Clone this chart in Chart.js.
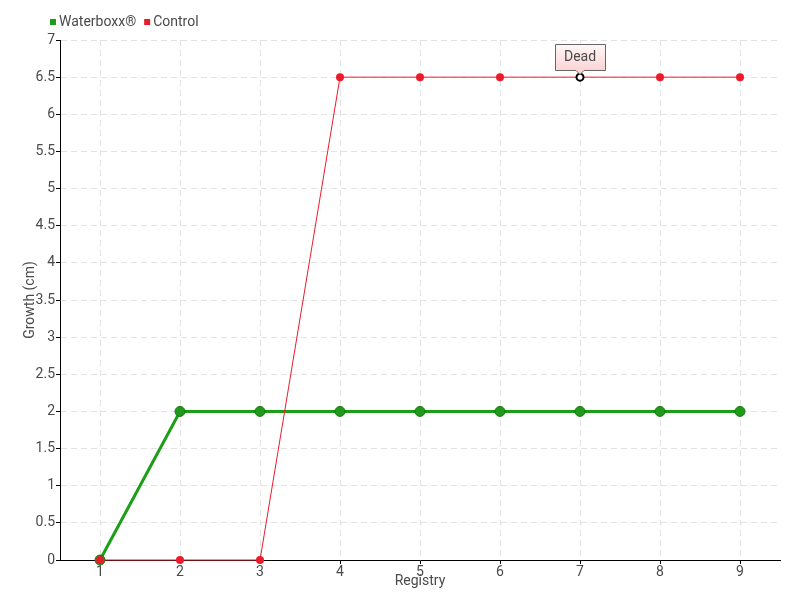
<!DOCTYPE html>
<html>
<head>
<meta charset="utf-8">
<script src="https://cdn.jsdelivr.net/npm/chart.js@4.4.0/dist/chart.umd.min.js"></script>
<style>
  html, body { margin: 0; padding: 0; background: #fff; }
  #wrap { width: 800px; height: 600px; }
</style>
</head>
<body>
<div id="wrap"><canvas id="c" width="800" height="600"></canvas></div>
<script>
// Registry points and growth measurements (cm)
const registries = ['1', '2', '3', '4', '5', '6', '7', '8', '9'];
const waterboxx = [0, 2, 2, 2, 2, 2, 2, 2, 2];
const control = [0, 0, 0, 6.5, 6.5, 6.5, 6.5, 6.5, 6.5];
// Note attached to a control measurement
const noteIndex = 6;
const noteText = 'Dead';

const FONT = 'Roboto, "DejaVu Sans", sans-serif';
const GREEN = '#1c9e16';
const RED = '#ea1b2b';
const TEXT = '#4a4a4a';

// Compact legend: small square swatch tight against each label
const compactLegend = {
  id: 'compactLegend',
  afterDraw(chart) {
    const ctx = chart.ctx;
    ctx.save();
    ctx.font = '14px ' + FONT;
    ctx.textBaseline = 'middle';
    ctx.textAlign = 'left';
    let x = 50;
    const y = 22;
    chart.data.datasets.forEach((ds) => {
      ctx.fillStyle = ds.borderColor;
      ctx.fillRect(x, y - 3, 6, 6);
      x += 9;
      ctx.fillStyle = TEXT;
      ctx.fillText(ds.label, x, y);
      x += ctx.measureText(ds.label).width + 8;
    });
    ctx.restore();
  }
};

// Callout box pinned above an annotated point
const notePlugin = {
  id: 'note',
  afterDatasetsDraw(chart) {
    const meta = chart.getDatasetMeta(1);
    const pt = meta.data[noteIndex];
    if (!pt) return;
    const ctx = chart.ctx;
    const x = pt.x, y = pt.y;
    ctx.save();
    // highlighted point
    ctx.beginPath();
    ctx.arc(x, y, 3.5, 0, Math.PI * 2);
    ctx.fillStyle = '#fff';
    ctx.fill();
    ctx.lineWidth = 2;
    ctx.strokeStyle = '#000';
    ctx.stroke();

    ctx.font = '14px ' + FONT;
    const w = 50, h = 26;
    const bx = Math.round(x - w / 2) + 0.5, by = Math.round(y - 33) + 0.5;
    const grad = ctx.createLinearGradient(0, by, 0, by + h);
    grad.addColorStop(0, '#fff6f6');
    grad.addColorStop(1, '#fcd4d4');
    ctx.beginPath();
    ctx.moveTo(bx, by);
    ctx.lineTo(bx + w, by);
    ctx.lineTo(bx + w, by + h);
    ctx.lineTo(x + 4, by + h);
    ctx.lineTo(x, by + h + 4);
    ctx.lineTo(x - 4, by + h);
    ctx.lineTo(bx, by + h);
    ctx.closePath();
    ctx.fillStyle = grad;
    ctx.fill();
    ctx.lineWidth = 1;
    ctx.strokeStyle = '#666';
    ctx.stroke();
    ctx.fillStyle = TEXT;
    ctx.textAlign = 'center';
    ctx.textBaseline = 'middle';
    ctx.fillText(noteText, x, by + h / 2);
    ctx.restore();
  }
};

new Chart(document.getElementById('c'), {
  type: 'line',
  data: {
    labels: registries,
    datasets: [
      {
        label: 'Waterboxx®',
        data: waterboxx,
        borderColor: GREEN,
        backgroundColor: GREEN,
        borderWidth: 3,
        pointRadius: 5,
        pointBackgroundColor: '#1f9a18',
        pointBorderColor: '#137a10',
        pointBorderWidth: 1,
        tension: 0,
        clip: false,
        order: 1
      },
      {
        label: 'Control',
        data: control,
        borderColor: RED,
        backgroundColor: RED,
        borderWidth: 1,
        pointRadius: 4,
        pointBackgroundColor: RED,
        pointBorderColor: RED,
        pointBorderWidth: 0,
        tension: 0,
        clip: false,
        order: 0
      }
    ]
  },
  options: {
    responsive: false,
    animation: false,
    devicePixelRatio: 1,
    layout: { padding: { left: 22, right: 20, top: 40, bottom: 0 } },
    plugins: {
      legend: { display: false },
      tooltip: { enabled: false }
    },
    scales: {
      x: {
        offset: true,
        afterFit(scale) { scale.height = 40; },
        title: {
          display: true,
          text: 'Registry',
          color: TEXT,
          font: { family: FONT, size: 14 },
          padding: { top: 0, bottom: 10 }
        },
        grid: {
          color: '#e2e2e2',
          offset: false,
          tickLength: 4,
          tickColor: '#000',
          tickBorderDash: []
        },
        border: { color: '#000', width: 1, dash: [6, 4] },
        ticks: { color: TEXT, font: { family: FONT, size: 14 }, padding: 0, maxRotation: 0 }
      },
      y: {
        min: 0,
        max: 7,
        afterFit(scale) { scale.width = 38; },
        title: {
          display: true,
          text: 'Growth (cm)',
          color: TEXT,
          font: { family: FONT, size: 14 },
          padding: { top: 0, bottom: 0 }
        },
        grid: {
          color: '#e2e2e2',
          tickLength: 4,
          tickColor: '#000',
          tickBorderDash: []
        },
        border: { color: '#000', width: 1, dash: [6, 4] },
        ticks: {
          stepSize: 0.5,
          color: TEXT,
          font: { family: FONT, size: 14 },
          padding: 1,
          callback: (v) => String(v)
        }
      }
    }
  },
  plugins: [notePlugin, compactLegend]
});
</script>
</body>
</html>
